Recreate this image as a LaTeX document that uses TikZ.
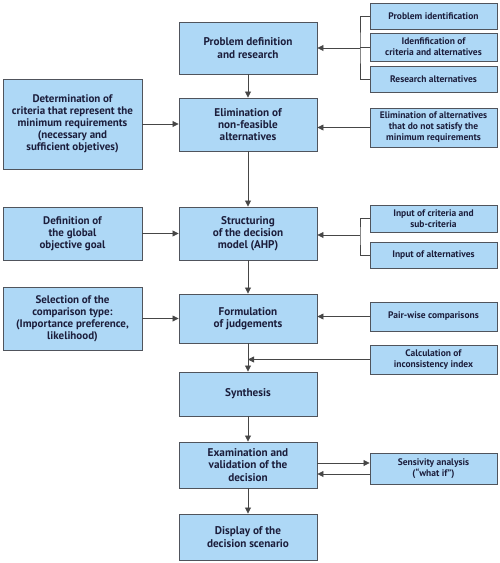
\documentclass[tikz,border=0pt]{standalone}
\usepackage{fontspec}
\setmainfont{PT Sans}
\usetikzlibrary{arrows.meta}
\definecolor{boxfill}{RGB}{174,216,246}
\definecolor{boxline}{RGB}{80,84,92}
\definecolor{txt}{RGB}{28,30,60}
\definecolor{conn}{RGB}{70,70,70}
\begin{document}
\begin{tikzpicture}[x=1pt,y=-1pt,
  base/.style={draw=boxline,line width=0.9pt,fill=boxfill,text=txt,align=center,inner sep=1pt,font=\bfseries},
  mainbox/.style={base,minimum width=138pt,font=\bfseries\fontsize{11.2}{12.2}\selectfont},
  leftbox/.style={base,minimum width=139pt,font=\bfseries\fontsize{11}{12}\selectfont},
  rightbox/.style={base,minimum width=127pt,font=\bfseries\fontsize{9.5}{11}\selectfont},
  arr/.style={draw=conn,line width=0.8pt,-{Triangle[length=6pt,width=6pt]}},
  ln/.style={draw=conn,line width=0.8pt}]
\useasboundingbox (0,0) rectangle (500,563);
% main column
\node[mainbox,minimum height=52pt] (B1) at (248,48) {Problem definition\\and research};
\node[mainbox,minimum height=53pt] (B2) at (248,124.5) {Elimination of\\non-feasible\\alternatives};
\node[mainbox,minimum height=53pt] (B3) at (248,233.5) {Structuring\\of the decision\\model (AHP)};
\node[mainbox,minimum height=49pt] (B4) at (248,318.5) {Formulation\\of judgements};
\node[mainbox,minimum height=44pt] (B5) at (248,394) {Synthesis};
\node[mainbox,minimum height=46pt] (B6) at (248,465) {Examination and\\validation of the\\decision};
\node[mainbox,minimum height=46pt] (B7) at (248,537) {Display of the\\decision scenario};
% left column
\node[leftbox,minimum height=90pt] (L1) at (72.5,124) {Determination of\\criteria that represent the\\minimum requirements\\(necessary and\\sufficient objetives)};
\node[leftbox,minimum height=53pt] (L2) at (72.5,233.5) {Definition of\\the global\\objective goal};
\node[leftbox,minimum height=63pt] (L3) at (72.5,318.5) {Selection of the\\comparison type:\\(Importance preference,\\likelihood)};
% right column
\node[rightbox,minimum height=26pt] (R1) at (433.5,16) {Problem identification};
\node[rightbox,minimum height=28pt] (R2) at (433.5,47) {Idenfification of\\criteria and alternatives};
\node[rightbox,minimum height=26pt] (R3) at (433.5,79) {Research alternatives};
\node[rightbox,minimum height=39pt] (R4) at (433.5,127.5) {Elimination of alternatives\\that do not satisfy the\\minimum requirements};
\node[rightbox,minimum height=27pt] (R5) at (433.5,218.5) {Input of criteria and\\sub-criteria};
\node[rightbox,minimum height=26pt] (R6) at (433.5,255) {Input of alternatives};
\node[rightbox,minimum height=29pt] (R7) at (433.5,316.5) {Pair-wise comparisons};
\node[rightbox,minimum height=29pt] (R8) at (433.5,359.5) {Calculation of\\inconsistency index};
\node[rightbox,minimum height=31pt] (R9) at (433.5,468.5) {Sensivity analysis\\(``what if'')};
% bracket coordinates
\coordinate (k1) at (360,48);
\coordinate (k2) at (360,235);
% vertical flow
\draw[arr] (B1.south) -- (B2.north);
\draw[arr] (B2.south) -- (B3.north);
\draw[arr] (B3.south) -- (B4.north);
\draw[arr] (B4.south) -- (B5.north);
\draw[arr] (B5.south) -- (B6.north);
\draw[arr] (B6.south) -- (B7.north);
% left inputs
\draw[arr] (L1.east) -- (L1.east -| B2.west);
\draw[arr] (L2.east) -- (L2.east -| B3.west);
\draw[arr] (L3.east) -- (L3.east -| B4.west);
% right bracket 1
\draw[ln] (R1.west) -| (k1) |- (R3.west);
\draw[ln] (R2.west) -- (R2.west -| k1);
\draw[arr] (k1) -- (k1 -| B1.east);
% R4
\draw[arr] (R4.west) -- (R4.west -| B2.east);
% bracket 2
\draw[ln] (R5.west) -| (k2) |- (R6.west);
\draw[arr] (k2) -- (k2 -| B3.east);
% R7, R8
\draw[arr] (R7.west) -- (R7.west -| B4.east);
\draw[arr] (R8.west) -- (R8.west -| B4.south);
% sensitivity loop
\draw[arr] ([yshift=5.5pt]R9.west -| B6.east) -- ([yshift=5.5pt]R9.west);
\draw[arr] ([yshift=-5.5pt]R9.west) -- ([yshift=-5.5pt]R9.west -| B6.east);
\end{tikzpicture}
\end{document}
